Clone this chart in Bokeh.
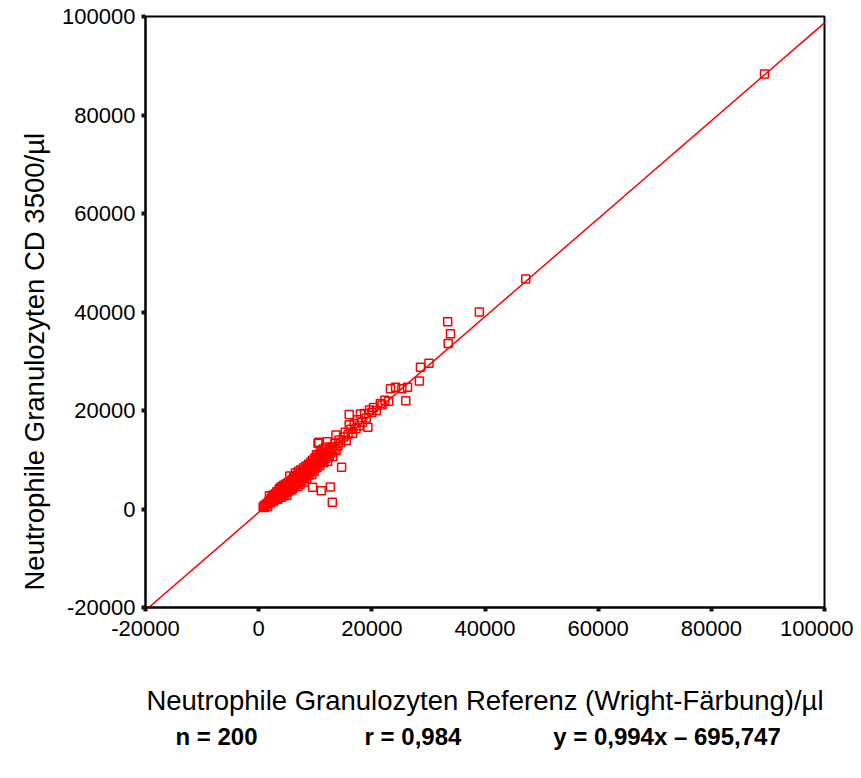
from bokeh.plotting import figure
from bokeh.models import Range1d, FixedTicker, LinearAxis, ColumnDataSource, Title
from bokeh.embed import file_html
from bokeh.resources import INLINE

# Reference (Wright) neutrophils / µl
ref_x = [
    800, 1000, 1100, 1300, 1500, 1600, 1800, 1900, 2000, 2100, 2200, 2300, 2400, 2500, 2600, 2700, 2800, 2900, 3000, 3000,
    3100, 3200, 3300, 3400, 3500, 3600, 3700, 3800, 3900,
    4000, 4000, 4100, 4200, 4300, 4400, 4500, 4500, 4600, 4700, 4800, 4900,
    5000, 5000, 5100, 5200, 5300, 5400, 5500, 5500, 5600, 5700, 5800, 5900,
    6000, 6000, 6100, 6200, 6300, 6400, 6500, 6500, 6600, 6700, 6800, 6900,
    7000, 7000, 7100, 7200, 7300, 7400, 7500, 7600, 7700, 7800, 7900, 8000, 8000,
    8100, 8200, 8300, 8400, 8500, 8600, 8700, 8800, 8900, 9000, 9100, 9200, 9300, 9400, 9500, 9600, 9700, 9800, 9900,
    10000, 10100, 10200, 10300, 10400, 10500, 10600, 10700, 10800, 10900,
    11000, 11100, 11200, 11300, 11400, 11500, 11600, 11700, 11800, 11900,
    12000, 12200, 12300, 12500, 12600, 12800, 13000, 13100, 13300, 13500, 13700, 14000, 14200, 14500,
    15000, 15300, 15500, 15800, 16000, 16000, 16300, 16600, 16900, 17200, 17500, 17800,
    18000, 18300, 18700, 19000, 19300, 19600, 20000, 20300, 20800, 21500, 21800, 22300,
    9540, 11070, 12670, 13020, 14660, 10480, 12130, 13660, 10650,
    23300, 24200, 25300, 26300, 26000, 28400, 28600, 30100, 33500, 33900, 33400, 39000, 47200, 89400,
    23000,
    3200, 3600, 4100, 4400, 4800, 5200, 5600, 5900, 6200, 6600, 6900, 7200, 7500, 7800, 8100, 8400, 8700, 9000, 9300,
    9600, 10000, 10400, 10700, 11000, 2500, 2800, 3400, 3800, 4200, 4600, 5000, 5400, 5800, 6300, 6700, 7100, 7600,
    8200, 8900, 9500, 10200,
]

# CD 3500 neutrophils / µl
cd3500_y = [
    400, 700, 300, 900, 1100, 500, 1500, 2700, 1800, 1200, 2200, 1600, 2600, 2000, 1500, 2900, 2300, 1900, 2500, 3100,
    2200, 3500, 2800, 2000, 3300, 2700, 4200, 3000, 3600,
    2400, 4500, 3200, 3900, 2900, 4800, 3600, 2700, 4200, 3300, 5100, 3900,
    4600, 2800, 3500, 5400, 4300, 3700, 6700, 4900, 4000, 5600, 4700, 3900,
    6000, 5000, 4300, 6500, 5500, 4600, 7300, 5900, 5100, 6800, 5400, 4500,
    7600, 6200, 5600, 6900, 5000, 7900, 6500, 5800, 7300, 6200, 8300, 7000, 5500,
    7600, 6600, 8700, 7200, 6200, 8100, 7400, 9100, 6900, 8200, 7600, 9500, 8600, 7000, 9900, 8000, 9000, 7600, 10300,
    8600, 9500, 11000, 8400, 9900, 10800, 9200, 10100, 8800, 11600,
    10300, 9600, 11100, 10000, 12200, 9400, 10700, 11600, 10200, 12600,
    11000, 9700, 11700, 10800, 12300, 11400, 12600, 10600, 12000, 13300, 11900, 12800, 14000, 13500,
    14600, 15600, 13900, 15100, 17100, 19200, 16200, 15400, 17300, 16300, 18100, 16900,
    19300, 17600, 19400, 18500, 16600, 20100, 19600, 20600, 20000, 21400, 21100, 22100,
    4400, 3720, 4470, 1360, 8470, 13340, 13670, 15030, 13540,
    24400, 24700, 24400, 24700, 22000, 26000, 28800, 29600, 33600, 35600, 38000, 40000, 46700, 88300,
    21900,
    2600, 3900, 4400, 3400, 4000, 4200, 5200, 5300, 5300, 6200, 6500, 6100, 7000, 7400, 7000, 8000, 8300, 8900, 8000,
    9300, 9200, 10400, 9500, 11300, 2400, 2700, 3000, 3300, 3600, 3800, 4000, 4800, 5800, 6200, 5800, 7000, 6700,
    7500, 8000, 8700, 10000,
]

axis_ticks = [-20000, 0, 20000, 40000, 60000, 80000, 100000]
fit_slope = 0.994
fit_intercept = -695.747
x_title = "Neutrophile Granulozyten Referenz (Wright-Färbung)/µl"
y_title = "Neutrophile Granulozyten CD 3500/µl"
stats = ["n = 200", "r = 0,984", "y = 0,994x – 695,747"]

FONT = "Liberation Sans"
RED = "#ff0000"
W, H = 853, 768

p = figure(width=W, height=H, output_backend="svg", toolbar_location=None,
           x_range=Range1d(axis_ticks[0], axis_ticks[-1]),
           y_range=Range1d(axis_ticks[0], axis_ticks[-1]),
           min_border_left=145, min_border_right=29, min_border_top=16, min_border_bottom=161)

p.grid.visible = False
p.outline_line_color = "black"
p.outline_line_width = 2
p.background_fill_color = "white"
p.border_fill_color = "white"

for ax in (p.xaxis[0], p.yaxis[0]):
    ax.ticker = FixedTicker(ticks=axis_ticks)
    ax.major_label_overrides = {t: str(t) for t in axis_ticks}
    ax.axis_line_color = "black"
    ax.axis_line_width = 2
    ax.major_tick_in = 0
    ax.major_tick_out = 4
    ax.major_tick_line_width = 4
    ax.major_tick_line_color = "#111111"
    ax.minor_tick_line_color = None
    ax.major_label_text_font = FONT
    ax.major_label_text_font_size = "22px"
    ax.major_label_text_color = "black"
    ax.axis_label_text_font = FONT
    ax.axis_label_text_font_size = "27.5px"
    ax.axis_label_text_font_style = "normal"
    ax.axis_label_text_color = "black"

p.xaxis[0].major_label_standoff = 9
p.xaxis[0].axis_label = x_title
p.xaxis[0].axis_label_standoff = 46
p.yaxis[0].major_label_standoff = 6

# y-axis title, placed as a side title so it can sit lower than the frame centre
ytitle = Title(text=y_title, align="left", offset=17, standoff=16, vertical_align="top",
               text_font=FONT, text_font_size="27.5px", text_font_style="normal",
               text_color="black")
p.add_layout(ytitle, "left")

# statistics line below the x-axis title, set as labels of a bare extra axis
stats_pos = [-7450, 27270, 72160]
stats_axis = LinearAxis(ticker=FixedTicker(ticks=stats_pos),
                        major_label_overrides=dict(zip(stats_pos, stats)),
                        axis_line_color=None, major_tick_line_color=None,
                        minor_tick_line_color=None, major_tick_out=0, major_tick_in=0,
                        major_label_standoff=4,
                        major_label_text_font=FONT, major_label_text_font_size="24px",
                        major_label_text_font_style="bold", major_label_text_color="black")
p.add_layout(stats_axis, "below")

# regression line across the full x range
lx = [axis_ticks[0], axis_ticks[-1]]
ly = [fit_slope * v + fit_intercept for v in lx]
p.line(lx, ly, line_color=RED, line_width=1.5)

src = ColumnDataSource(dict(x=ref_x, y=cd3500_y))
p.scatter("x", "y", source=src, marker="square", size=8, fill_color=None,
          line_color=RED, line_width=1.5)

open("out.html", "w").write(file_html(p, INLINE))
